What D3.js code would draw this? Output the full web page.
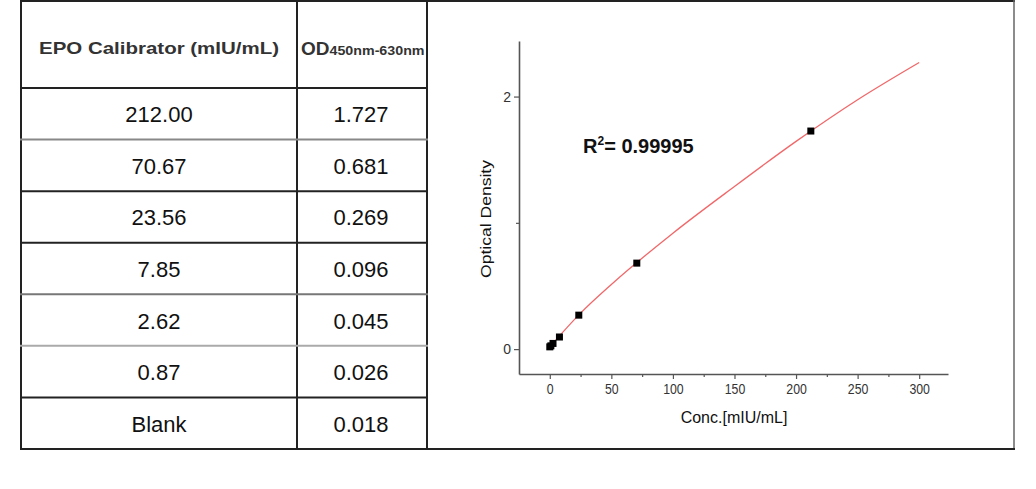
<!DOCTYPE html>
<html>
<head>
<meta charset="utf-8">
<script src="https://cdn.jsdelivr.net/npm/d3@7"></script>
<style>
  body { margin: 0; background: #fff; }
  svg { display: block; font-family: "Liberation Sans", Arial, sans-serif; }
</style>
</head>
<body>
<svg id="chart" width="1036" height="489"></svg>
<script>
// table / calibrator data
const calibratorLabels = ['212.00', '70.67', '23.56', '7.85', '2.62', '0.87', 'Blank'];
const odLabels = ['1.727', '0.681', '0.269', '0.096', '0.045', '0.026', '0.018'];
const concValues = [212, 70.67, 23.56, 7.85, 2.62, 0.87, 0];
const odValues = [1.727, 0.681, 0.269, 0.096, 0.045, 0.026, 0.018];

// fitted curve
const fitConc = [0, 25, 50, 100, 150, 200, 250, 300];
const fitOD = [0.018, 0.285, 0.512, 0.918, 1.288, 1.645, 1.975, 2.27];

// axis ticks
const xMajorTicks = [0, 50, 100, 150, 200, 250, 300];
const xMinorTicks = [25, 75, 125, 175, 225, 275];
const yMajorTicks = [0, 2];
const yMinorTicks = [1];

// row rule shades (top of each data row, then the bottom)
const ruleColors = ['#222', '#888', '#222', '#222', '#777', '#aaa', '#222', '#222'];

const svg = d3.select('#chart');
svg.append('rect').attr('width', 1036).attr('height', 489).attr('fill', '#fff');

// ---------- table ----------
const table = svg.append('g').attr('class', 'table');
const colX = [21, 297, 427];
const rowY = d3.scaleBand()
  .domain(d3.range(calibratorLabels.length))
  .range([88, 449]);

// outer frame around table + plot
table.append('line').attr('x1', 20).attr('x2', 1015).attr('y1', 1).attr('y2', 1)
  .attr('stroke', '#222').attr('stroke-width', 2);
table.append('line').attr('x1', 1014).attr('x2', 1014).attr('y1', 0).attr('y2', 450)
  .attr('stroke', '#666').attr('stroke-width', 1.5);

table.selectAll('.vrule')
  .data(colX)
  .enter()
  .append('line')
  .attr('class', 'vrule')
  .attr('x1', (d) => d).attr('x2', (d) => d)
  .attr('y1', 0).attr('y2', 450)
  .attr('stroke', '#222').attr('stroke-width', 2);

const ruleYs = d3.range(calibratorLabels.length).map((i) => rowY(i)).concat([449]);
table.selectAll('.hrule')
  .data(ruleYs)
  .enter()
  .append('line')
  .attr('class', 'hrule')
  .attr('x1', 20)
  .attr('x2', (d, i) => (i === ruleYs.length - 1 ? 1015 : 428))
  .attr('y1', (d) => d).attr('y2', (d) => d)
  .attr('stroke', (d, i) => ruleColors[i])
  .attr('stroke-width', 2);

// header
table.append('text')
  .attr('x', 159).attr('y', 54)
  .attr('text-anchor', 'middle')
  .attr('font-size', '16.5px').attr('font-weight', 'bold')
  .attr('fill', '#333')
  .attr('textLength', 240).attr('lengthAdjust', 'spacingAndGlyphs')
  .text('EPO Calibrator (mIU/mL)');

const odHead = table.append('text')
  .attr('x', 301).attr('y', 55)
  .attr('font-weight', 'bold')
  .attr('fill', '#333');
odHead.append('tspan').attr('font-size', '19px').text('OD');
odHead.append('tspan')
  .attr('font-size', '12.5px')
  .attr('textLength', 95).attr('lengthAdjust', 'spacingAndGlyphs')
  .text('450nm-630nm');

// body cells
table.selectAll('.calib')
  .data(calibratorLabels)
  .enter()
  .append('text')
  .attr('class', 'calib')
  .attr('x', 159)
  .attr('y', (d, i) => rowY(i) + rowY.bandwidth() / 2 + 8.5)
  .attr('text-anchor', 'middle')
  .attr('font-size', '22px')
  .attr('fill', '#111')
  .text((d) => d);

table.selectAll('.od')
  .data(odLabels)
  .enter()
  .append('text')
  .attr('class', 'od')
  .attr('x', 361)
  .attr('y', (d, i) => rowY(i) + rowY.bandwidth() / 2 + 8.5)
  .attr('text-anchor', 'middle')
  .attr('font-size', '22px')
  .attr('fill', '#111')
  .text((d) => d);

// ---------- plot ----------
const x = d3.scaleLinear().domain([-25, 323.4]).range([519, 948]);
const y = d3.scaleLinear().domain([-0.197, 2.44]).range([374, 41]);
const axisColor = '#555';

const xAxis = svg.append('g')
  .attr('transform', 'translate(0,374)')
  .call(d3.axisBottom(x).tickValues(xMajorTicks).tickSize(5).tickSizeOuter(0).tickPadding(5));
svg.append('g')
  .attr('transform', 'translate(0,374)')
  .call(d3.axisBottom(x).tickValues(xMinorTicks).tickSize(3).tickSizeOuter(0).tickFormat(''))
  .select('.domain').remove();

const yAxis = svg.append('g')
  .attr('transform', 'translate(519,0)')
  .call(d3.axisLeft(y).tickValues(yMajorTicks).tickFormat(d3.format('d'))
    .tickSize(5).tickSizeOuter(0).tickPadding(3));
svg.append('g')
  .attr('transform', 'translate(519,0)')
  .call(d3.axisLeft(y).tickValues(yMinorTicks).tickSize(3).tickSizeOuter(0).tickFormat(''))
  .select('.domain').remove();

svg.selectAll('.domain').attr('stroke', axisColor).attr('stroke-width', 1.6);
svg.selectAll('.tick line').attr('stroke', axisColor).attr('stroke-width', 1.2);
svg.selectAll('.tick text')
  .attr('fill', '#333')
  .attr('font-size', '14px')
  .attr('font-family', '"Liberation Sans", Arial, sans-serif');
xAxis.selectAll('.tick text').attr('transform', 'scale(0.88,1)');

// fitted curve
const fitPoints = fitConc.map((c, i) => [c, fitOD[i]]);
svg.append('path')
  .datum(fitPoints)
  .attr('fill', 'none')
  .attr('stroke', '#f0686a')
  .attr('stroke-width', 1.3)
  .attr('d', d3.line()
    .x((d) => x(d[0]))
    .y((d) => y(d[1]))
    .curve(d3.curveMonotoneX));

// calibrator markers
const marker = 7;
svg.selectAll('.pt')
  .data(concValues.map((c, i) => [c, odValues[i]]))
  .enter()
  .append('rect')
  .attr('class', 'pt')
  .attr('x', (d) => x(d[0]) - marker / 2)
  .attr('y', (d) => y(d[1]) - marker / 2)
  .attr('width', marker)
  .attr('height', marker)
  .attr('fill', '#000');

// axis titles
svg.append('text')
  .attr('transform', 'translate(491,219) rotate(-90)')
  .attr('text-anchor', 'middle')
  .attr('font-size', '15px')
  .attr('fill', '#111')
  .attr('textLength', 118).attr('lengthAdjust', 'spacingAndGlyphs')
  .text('Optical Density');

svg.append('text')
  .attr('x', 734).attr('y', 423)
  .attr('text-anchor', 'middle')
  .attr('font-size', '16px')
  .attr('fill', '#111')
  .text('Conc.[mIU/mL]');

// R squared note
const r2 = svg.append('text')
  .attr('x', 583).attr('y', 153)
  .attr('font-size', '20px')
  .attr('font-weight', 'bold')
  .attr('fill', '#111');
r2.append('tspan').text('R');
r2.append('tspan').attr('font-size', '12px').attr('dy', -8).text('2');
r2.append('tspan').attr('dy', 8).text('= 0.99995');
</script>
</body>
</html>
